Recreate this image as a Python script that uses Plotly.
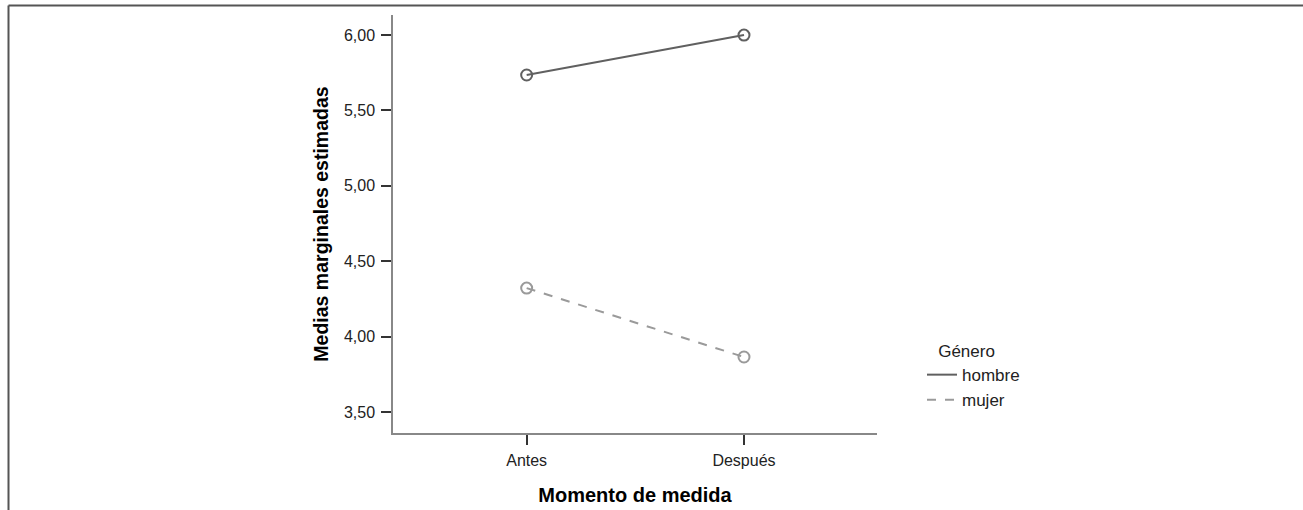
import plotly.graph_objects as go

categories = ["Antes", "Después"]
hombre = [5.735, 6.00]
mujer = [4.322, 3.865]
y_ticks = [3.5, 4.0, 4.5, 5.0, 5.5, 6.0]

W, H = 1303, 510
L, R, T, B = 393, 877, 15, 433
pw, ph = R - L, B - T

def px_x(p):
    return (p - L) / pw

def px_y(p):
    return (B - p) / ph

font = "Liberation Sans, Arial, sans-serif"

fig = go.Figure()
series = [("hombre", hombre, "#606060", "solid"), ("mujer", mujer, "#9a9a9a", "9px,9px")]
for name, vals, col, dash in series:
    fig.add_trace(go.Scatter(x=categories, y=vals, mode="lines", name=name,
                             line=dict(color=col, width=2, dash=dash)))
for name, vals, col, dash in series:
    fig.add_trace(go.Scatter(x=categories, y=vals, mode="markers", showlegend=False,
                             marker=dict(symbol="circle-open", size=11, color=col,
                                         line=dict(width=2, color=col))))

fig.update_layout(
    width=W, height=H,
    margin=dict(l=L, r=W - R, t=T, b=H - B, autoexpand=False),
    paper_bgcolor="white", plot_bgcolor="white",
    font=dict(family=font, size=16, color="#222"),
    separators=", ",
    showlegend=True,
    legend=dict(x=px_x(922), y=px_y(335), xanchor="left", yanchor="top",
                title=dict(text="\u00a0\u00a0\u00a0Género", font=dict(size=17, color="#222")),
                font=dict(size=17, color="#222"), tracegroupgap=0,
                bgcolor="rgba(0,0,0,0)"),
    xaxis=dict(type="category", range=[-0.615, 1.612], showline=True, automargin=False,
               linecolor="#888", linewidth=1.5, ticks="outside", ticklen=10,
               tickwidth=1.5, tickcolor="#333", showgrid=False, zeroline=False,
               tickfont=dict(size=16, color="#222"), ticklabelstandoff=2,
               title=dict(text="<b>Momento de medida</b>", font=dict(size=20, color="#000"),
                          standoff=20)),
    yaxis=dict(range=[3.361, 6.133], tickvals=y_ticks, tickformat=".2f", automargin=False,
               showline=True, linecolor="#888", linewidth=1.5, ticks="outside",
               ticklen=10, tickwidth=1.5, tickcolor="#333", showgrid=False,
               zeroline=False, tickfont=dict(size=16, color="#222"), ticklabelstandoff=3,
               title=dict(text="<b>Medias marginales estimadas</b>",
                          font=dict(size=19.5, color="#000"), standoff=10)),
)

# frame lines (top and left)
fig.add_shape(type="line", xref="paper", yref="paper", x0=px_x(8.5), x1=px_x(W + 5),
              y0=px_y(5.5), y1=px_y(5.5), line=dict(color="#555", width=2))
fig.add_shape(type="line", xref="paper", yref="paper", x0=px_x(8.5), x1=px_x(8.5),
              y0=px_y(5.5), y1=px_y(H + 5), line=dict(color="#555", width=2))

fig.write_html("out.html", config={"displayModeBar": False},
               post_script="document.body.style.margin='0';")
